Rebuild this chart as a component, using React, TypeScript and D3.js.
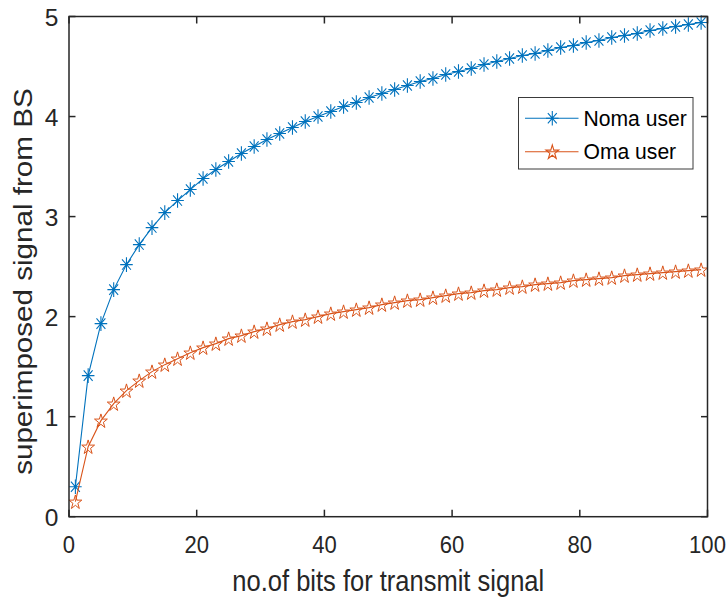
import { useEffect, useRef } from 'react';
import * as d3 from 'd3';

// number of bits (x), odd values only
const bits = [1, 3, 5, 7, 9, 11, 13, 15, 17, 19, 21, 23, 25, 27, 29, 31, 33, 35, 37, 39,
    41, 43, 45, 47, 49, 51, 53, 55, 57, 59, 61, 63, 65, 67, 69, 71, 73, 75, 77, 79,
    81, 83, 85, 87, 89, 91, 93, 95, 97, 99];

const nomaUser = [0.30, 1.41, 1.93, 2.27, 2.52, 2.72, 2.89, 3.04, 3.16, 3.27, 3.38, 3.47, 3.55, 3.63, 3.70,
    3.77, 3.83, 3.89, 3.95, 4.00, 4.05, 4.10, 4.14, 4.19, 4.23, 4.27, 4.31, 4.35, 4.38, 4.42,
    4.45, 4.48, 4.52, 4.55, 4.58, 4.61, 4.63, 4.66, 4.69, 4.71, 4.74, 4.76, 4.79, 4.81, 4.83,
    4.86, 4.88, 4.90, 4.92, 4.94];

const omaUser = [0.15, 0.70, 0.96, 1.13, 1.26, 1.36, 1.45, 1.52, 1.58, 1.64, 1.69, 1.73, 1.78, 1.81, 1.85,
    1.88, 1.92, 1.95, 1.97, 2.00, 2.03, 2.05, 2.07, 2.09, 2.12, 2.14, 2.16, 2.17, 2.19, 2.21,
    2.23, 2.24, 2.26, 2.27, 2.29, 2.30, 2.32, 2.33, 2.34, 2.36, 2.37, 2.38, 2.39, 2.41, 2.42,
    2.43, 2.44, 2.45, 2.46, 2.47];

const xTicks = [0, 20, 40, 60, 80, 100];
const yTicks = [0, 1, 2, 3, 4, 5];
const seriesNames = ['Noma user', 'Oma user'];

const width = 727;
const height = 601;
const margin = { top: 16.5, right: 19.5, bottom: 84.3, left: 69 };
const font = '"Liberation Sans", Arial, Helvetica, sans-serif';
const axisColor = '#262626';
const blue = '#0072BD';
const orange = '#D95319';

const asterisk = (rx: number, ry: number) => {
    let p = '';
    for (let i = 0; i < 4; i++) {
        const a = (i * Math.PI) / 4;
        const dx = Math.sin(a) * rx;
        const dy = Math.cos(a) * ry;
        p += `M${-dx},${-dy}L${dx},${dy}`;
    }
    return p;
};

const pentagram = (R: number, sx: number) => {
    const r = R * 0.382;
    const pts: string[] = [];
    for (let i = 0; i < 10; i++) {
        const rad = i % 2 === 0 ? R : r;
        const a = (i * Math.PI) / 5;
        pts.push(`${(Math.sin(a) * rad * sx).toFixed(2)},${(-Math.cos(a) * rad + R * 0.1).toFixed(2)}`);
    }
    return 'M' + pts.join('L') + 'Z';
};

const App = () => {
    const svgRef = useRef<SVGSVGElement | null>(null);

    useEffect(() => {
        const svg = d3.select(svgRef.current);
        svg.selectAll('*').remove();

        const xScale = d3.scaleLinear().domain([0, 100]).range([margin.left, width - margin.right]);
        const yScale = d3.scaleLinear().domain([0, 5]).range([height - margin.bottom, margin.top]);

        const noma = bits.map((b, i) => ({ x: b, y: nomaUser[i] }));
        const oma = bits.map((b, i) => ({ x: b, y: omaUser[i] }));

        const line = d3.line<{ x: number; y: number }>()
            .x(d => xScale(d.x))
            .y(d => yScale(d.y));

        // series
        svg.append('path')
            .attr('d', line(noma))
            .attr('fill', 'none')
            .attr('stroke', blue)
            .attr('stroke-width', 1.1);
        svg.selectAll('.ast')
            .data(noma)
            .join('path')
            .attr('class', 'ast')
            .attr('transform', d => `translate(${xScale(d.x)},${yScale(d.y)})`)
            .attr('d', asterisk(6.3, 7.3))
            .attr('stroke', blue)
            .attr('stroke-width', 1.1)
            .attr('fill', 'none');

        svg.append('path')
            .attr('d', line(oma))
            .attr('fill', 'none')
            .attr('stroke', orange)
            .attr('stroke-width', 1.1);
        svg.selectAll('.star')
            .data(oma)
            .join('path')
            .attr('class', 'star')
            .attr('transform', d => `translate(${xScale(d.x)},${yScale(d.y)})`)
            .attr('d', pentagram(7.5, 0.9))
            .attr('stroke', orange)
            .attr('stroke-width', 1)
            .attr('fill', 'none');

        // box + ticks
        const x0 = xScale(0), x1 = xScale(100), y0 = yScale(0), y1 = yScale(5);
        svg.append('rect')
            .attr('x', x0).attr('y', y1)
            .attr('width', x1 - x0).attr('height', y0 - y1)
            .attr('fill', 'none')
            .attr('stroke', axisColor)
            .attr('stroke-width', 1.5);

        const tickG = svg.append('g').attr('stroke', axisColor).attr('stroke-width', 1.5);
        xTicks.forEach(t => {
            tickG.append('line').attr('x1', xScale(t)).attr('x2', xScale(t)).attr('y1', y0).attr('y2', y0 - 7);
            tickG.append('line').attr('x1', xScale(t)).attr('x2', xScale(t)).attr('y1', y1).attr('y2', y1 + 7);
        });
        yTicks.forEach(t => {
            tickG.append('line').attr('x1', x0).attr('x2', x0 + 6.5).attr('y1', yScale(t)).attr('y2', yScale(t));
            tickG.append('line').attr('x1', x1).attr('x2', x1 - 6.5).attr('y1', yScale(t)).attr('y2', yScale(t));
        });

        // tick labels
        svg.selectAll('.xtl')
            .data(xTicks)
            .join('text')
            .attr('class', 'xtl')
            .attr('transform', d => `translate(${xScale(d)},553) scale(0.9,1)`)
            .attr('text-anchor', 'middle')
            .attr('font-family', font)
            .attr('font-size', 24.5)
            .attr('fill', axisColor)
            .text(d => d);

        svg.selectAll('.ytl')
            .data(yTicks)
            .join('text')
            .attr('class', 'ytl')
            .attr('transform', d => `translate(58.5,${yScale(d) + 9})`)
            .attr('text-anchor', 'end')
            .attr('font-family', font)
            .attr('font-size', 24.5)
            .attr('fill', axisColor)
            .text(d => d);

        // axis titles
        svg.append('text')
            .attr('transform', `translate(${(x0 + x1) / 2},591) scale(0.88,1)`)
            .attr('text-anchor', 'middle')
            .attr('font-family', font)
            .attr('font-size', 29)
            .attr('fill', axisColor)
            .text('no.of bits for transmit signal');

        svg.append('text')
            .attr('transform', `translate(32,${(y0 + y1) / 2 + 15}) rotate(-90) scale(1,0.87)`)
            .attr('text-anchor', 'middle')
            .attr('font-family', font)
            .attr('font-size', 29.6)
            .attr('fill', axisColor)
            .text('superimposed signal from BS');

        // legend
        const lg = svg.append('g');
        lg.append('rect')
            .attr('x', 518.5).attr('y', 97.5)
            .attr('width', 174.5).attr('height', 71.5)
            .attr('fill', 'white')
            .attr('stroke', '#3a3a3a')
            .attr('stroke-width', 1);
        const rows = [
            { name: seriesNames[0], color: blue, y: 118.3, marker: asterisk(6.3, 7.3) },
            { name: seriesNames[1], color: orange, y: 151.7, marker: pentagram(7.5, 0.9) },
        ];
        rows.forEach(r => {
            lg.append('line')
                .attr('x1', 525).attr('x2', 578.5)
                .attr('y1', r.y).attr('y2', r.y)
                .attr('stroke', r.color).attr('stroke-width', 1.1);
            lg.append('path')
                .attr('transform', `translate(552.3,${r.y})`)
                .attr('d', r.marker)
                .attr('stroke', r.color).attr('stroke-width', 1.1)
                .attr('fill', 'none');
            lg.append('text')
                .attr('transform', `translate(583.5,${r.y + 7.5}) scale(0.96,1)`)
                .attr('font-family', font)
                .attr('font-size', 22)
                .attr('fill', '#000')
                .text(r.name);
        });
    }, []);

    return (
        <svg
            ref={svgRef}
            width={width}
            height={height}
            style={{ position: 'absolute', left: 0, top: 0, background: 'white' }}
        />
    );
};

export default App;
